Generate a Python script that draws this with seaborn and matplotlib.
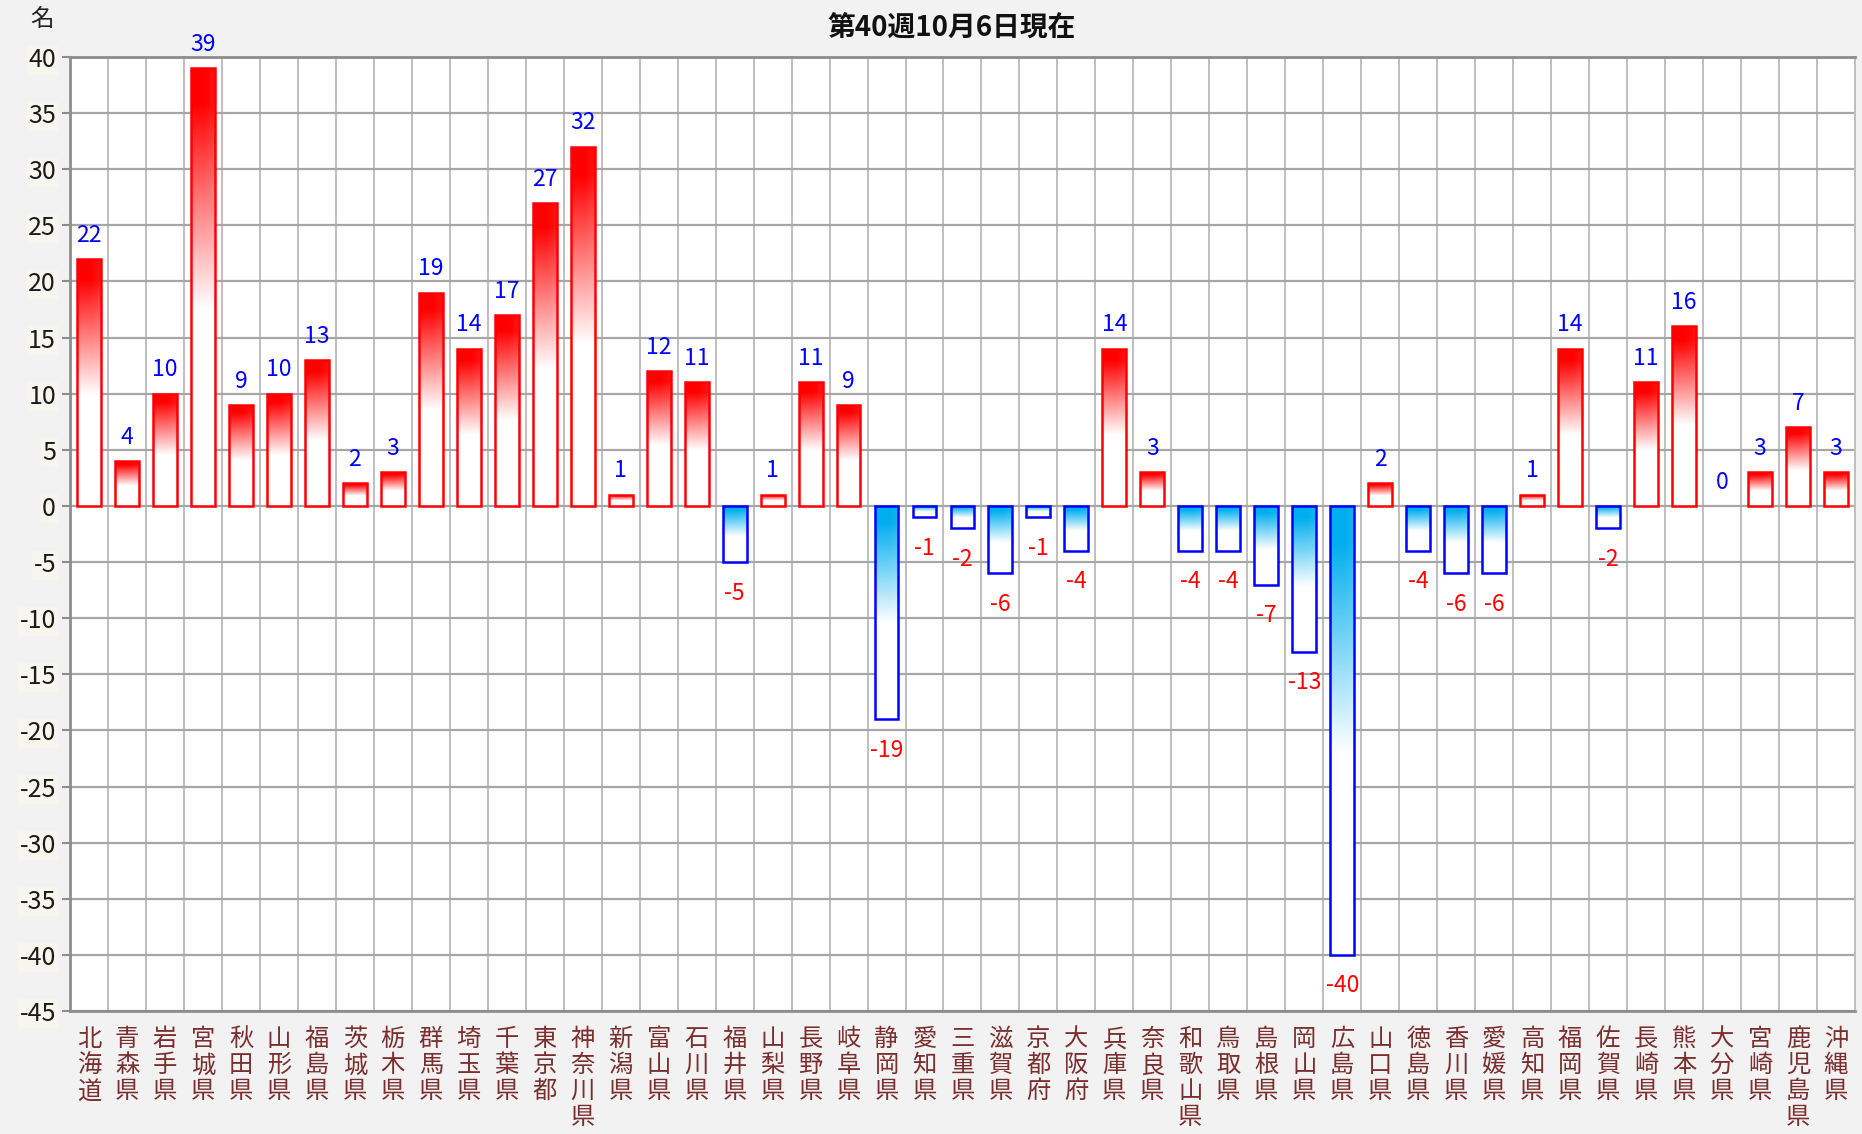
import numpy as np
import pandas as pd
import matplotlib
matplotlib.use("Agg")
import matplotlib.pyplot as plt
import seaborn as sns
from matplotlib.colors import to_rgb

prefectures = ["北海道", "青森県", "岩手県", "宮城県", "秋田県", "山形県", "福島県", "茨城県",
               "栃木県", "群馬県", "埼玉県", "千葉県", "東京都", "神奈川県", "新潟県", "富山県",
               "石川県", "福井県", "山梨県", "長野県", "岐阜県", "静岡県", "愛知県", "三重県",
               "滋賀県", "京都府", "大阪府", "兵庫県", "奈良県", "和歌山県", "鳥取県", "島根県",
               "岡山県", "広島県", "山口県", "徳島県", "香川県", "愛媛県", "高知県", "福岡県",
               "佐賀県", "長崎県", "熊本県", "大分県", "宮崎県", "鹿児島県", "沖縄県"]
values = [22, 4, 10, 39, 9, 10, 13, 2, 3, 19, 14, 17, 27, 32, 1, 12,
          11, -5, 1, 11, 9, -19, -1, -2, -6, -1, -4, 14, 3, -4, -4, -7,
          -13, -40, 2, -4, -6, -6, 1, 14, -2, 11, 16, 0, 3, 7, 3]
yticks = list(range(-45, 41, 5))
title = "第40週10月6日現在"
unit_label = "名"

sns.set_theme(style="white")
plt.rcParams["font.family"] = ["Noto Sans CJK JP", "DejaVu Sans"]

df = pd.DataFrame({"pref": prefectures, "value": values})

fig = plt.figure(figsize=(18.62, 11.34), dpi=100, facecolor="#F2F2F2")
ax = fig.add_axes([0.0376, 0.1085, 0.9586, 0.8412])
ax.set_facecolor("white")

sns.barplot(data=df, x="pref", y="value", color="white", width=0.63, ax=ax,
            saturation=1, zorder=3)

ax.set_xlim(-0.5, len(prefectures) - 0.5)
ax.set_ylim(-45, 40)


def gradient_img(color, n=256, frac=0.55, hold=0.08):
    c = np.array(to_rgb(color))
    w = np.array([1.0, 1.0, 1.0])
    t = np.linspace(0, 1, n)
    a = np.clip((t - hold) / (frac - hold), 0, 1)
    rows = (1 - a)[:, None] * c[None, :] + a[:, None] * w[None, :]
    cols = np.linspace(0, 1, 16)
    shade = 1 - 0.12 * np.clip((cols - 0.6) / 0.4, 0, 1)
    img = rows[:, None, :] * np.ones((1, 16, 1))
    img = img + (1 - img) * (1 - shade)[None, :, None] * 0.6
    return np.clip(img, 0, 1)


red_img = gradient_img("#FF0000")
blue_img = gradient_img("#00AEEF")

for patch, v in zip(ax.patches, values):
    x0 = patch.get_x()
    w = patch.get_width()
    if v > 0:
        img = red_img
        extent = [x0, x0 + w, 0, v]
        edge = "#FF0000"
    elif v < 0:
        img = blue_img
        extent = [x0, x0 + w, v, 0]
        edge = "#0000FF"
    else:
        patch.set_visible(False)
        continue
    im = ax.imshow(img, extent=extent, origin="upper", aspect="auto", zorder=2.5,
                   interpolation="bilinear")
    im.set_clip_path(patch)
    patch.set_facecolor("none")
    patch.set_edgecolor(edge)
    patch.set_linewidth(1.8)

ax.set_xlim(-0.5, len(prefectures) - 0.5)
ax.set_ylim(-45, 40)

# value labels
for i, v in enumerate(values):
    if v >= 0:
        ax.text(i, v + 1.1, str(v), ha="center", va="bottom", color="#0000FF", fontsize=16.5,
                zorder=5)
    else:
        ax.text(i, v - 1.75, str(v), ha="center", va="top", color="#FF0000", fontsize=16.5,
                zorder=5)

# grid
ax.set_yticks(yticks)
ax.set_yticklabels([str(t) for t in yticks], fontsize=18, color="#1A1A1A")
for lbl in ax.get_yticklabels():
    lbl.set_bbox(dict(facecolor="#F6F5EE", edgecolor="none", pad=1))
ax.yaxis.grid(True, color="#A6A6A6", linewidth=1.6, zorder=1)
ax.set_xticks(np.arange(len(prefectures)) + 0.5, minor=True)
ax.xaxis.grid(True, which="minor", color="#BFBFBF", linewidth=1.4, zorder=1)
ax.xaxis.grid(False, which="major")
ax.set_axisbelow(True)

ax.set_xticks(np.arange(len(prefectures)))
ax.set_xticklabels(["\n".join(p) for p in prefectures], fontsize=17.5, color="#7A2E2E",
                   linespacing=1.0, va="top")
ax.tick_params(axis="x", which="both", length=0, pad=11)
ax.tick_params(axis="y", which="major", length=6, width=1.5, color="#8C8C8C", pad=4, left=True)

for side in ["left", "bottom", "top", "right"]:
    ax.spines[side].set_visible(True)
    ax.spines[side].set_color("#8C8C8C")
    ax.spines[side].set_linewidth(2)
ax.spines["right"].set_color("#BFBFBF")
ax.spines["right"].set_linewidth(1.4)

ax.set_xlabel("")
ax.set_ylabel("")

fig.text(0.511, 0.975, title, ha="center", va="center", fontsize=20, fontweight="bold",
         color="#111111")
fig.text(0.0225, 0.983, unit_label, ha="center", va="center", fontsize=17, color="#222222")

fig.savefig("out.png", dpi=100, facecolor=fig.get_facecolor())
